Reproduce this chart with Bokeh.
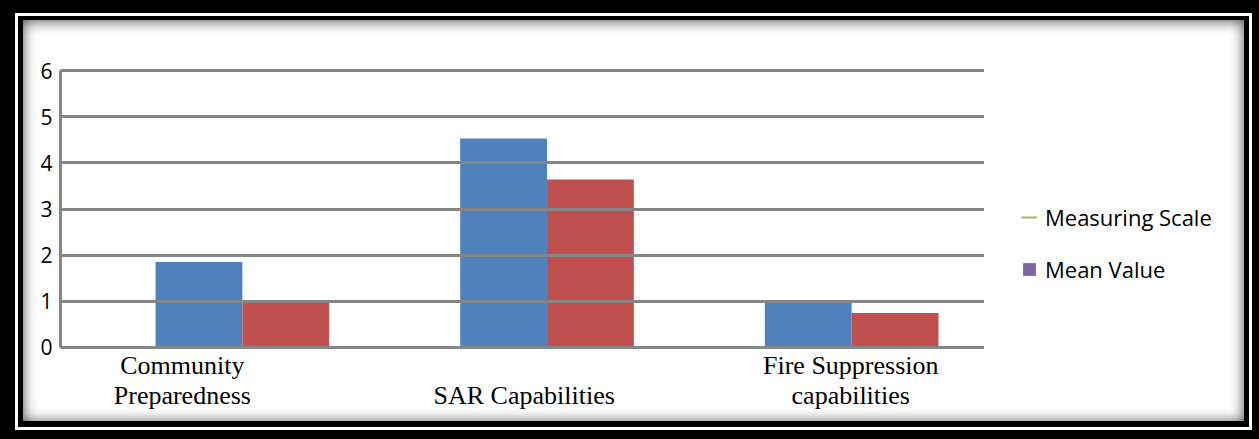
import numpy as np
from bokeh.plotting import figure
from bokeh.layouts import row
from bokeh.models import (Range1d, FixedTicker, Legend, LegendItem,
                          CustomJSTickFormatter, LinearAxis)
from bokeh.embed import file_html
from bokeh.resources import INLINE

# --- data -------------------------------------------------------------
categories = ["Community Preparedness", "SAR Capabilities", "Fire Suppression capabilities"]
category_labels = ["Community\nPreparedness", "SAR Capabilities", "Fire Suppression\ncapabilities"]
measuring_scale = [1.85, 4.53, 0.98]
mean_value = [0.96, 3.64, 0.74]
y_ticks = [0, 1, 2, 3, 4, 5, 6]
legend_labels = ["Measuring Scale", "Mean Value"]

# --- styling ----------------------------------------------------------
BLUE = "#4F81BD"
RED = "#C0504D"
GRID = "#868686"
LEGEND_LINE = "#9BBB59"
LEGEND_BOX = "#8064A2"
SANS = "Open Sans"
SERIF = "Liberation Serif"
BAR_W = 0.285
label_shift = [-0.197, -0.075, -0.003]   # where each category caption sits

positions = list(range(len(categories)))

p = figure(
    width=984, height=439,
    output_backend="svg", toolbar_location=None,
    x_range=Range1d(-0.597, 2.436), y_range=Range1d(-0.03, 6.03),
    x_axis_location=None,
    min_border_left=60, min_border_right=0,
    min_border_top=69, min_border_bottom=91,
)
p.outline_line_color = None
p.background_fill_color = "white"
p.border_fill_alpha = 0

# bars
p.vbar(x=[x - BAR_W / 2 for x in positions], top=measuring_scale, width=BAR_W,
       fill_color=BLUE, line_color=None)
p.vbar(x=[x + BAR_W / 2 for x in positions], top=mean_value, width=BAR_W,
       fill_color=RED, line_color=None)

# category captions on a bottom axis (shorter captions sit on the lower line)
xaxis = LinearAxis(
    ticker=FixedTicker(ticks=[x + s for x, s in zip(positions, label_shift)]),
    formatter=CustomJSTickFormatter(
        args=dict(labels=category_labels),
        code="""
            const n = Math.max(...labels.map(l => l.split("\\n").length));
            const s = labels[Math.round(tick)];
            return "\\n".repeat(n - s.split("\\n").length) + s;
        """),
    axis_line_color=None, major_tick_line_color=None, minor_tick_line_color=None,
    major_tick_out=0, major_label_standoff=2,
    major_label_text_font=SERIF, major_label_text_font_size="26px",
    major_label_text_color="black", major_label_text_line_height=1.05,
)
p.add_layout(xaxis, "below")

# y axis
yaxis = p.yaxis[0]
yaxis.ticker = FixedTicker(ticks=y_ticks)
yaxis.bounds = (0, 6)
yaxis.axis_line_color = GRID
yaxis.axis_line_width = 3
yaxis.major_tick_line_color = None
yaxis.minor_tick_line_color = None
yaxis.major_tick_out = 0
yaxis.major_label_text_font = SANS
yaxis.major_label_text_font_size = "21px"
yaxis.major_label_text_color = "black"
yaxis.major_label_standoff = 8

# grid drawn over the bars
p.xgrid.visible = False
p.ygrid.ticker = FixedTicker(ticks=y_ticks)
p.ygrid.grid_line_color = GRID
p.ygrid.grid_line_width = 3
p.ygrid.level = "overlay"

# legend panel
q = figure(
    width=275, height=439, output_backend="svg", toolbar_location=None,
    x_range=Range1d(0, 1), y_range=Range1d(0, 1),
    x_axis_location=None, y_axis_location=None, min_border=0,
)
q.grid.visible = False
q.outline_line_color = None
q.background_fill_alpha = 0
q.border_fill_alpha = 0

r_line = q.line(x=np.array([np.nan]), y=np.array([np.nan]), line_color=LEGEND_LINE, line_width=2)
r_box = q.quad(left=np.array([np.nan]), right=np.array([np.nan]),
               top=np.array([np.nan]), bottom=np.array([np.nan]),
               fill_color=LEGEND_BOX, line_color=None)
legend = Legend(
    items=[LegendItem(label=legend_labels[0], renderers=[r_line]),
           LegendItem(label=legend_labels[1], renderers=[r_box])],
    location=(37, 64),
    glyph_width=16, glyph_height=16,
    label_standoff=8, spacing=22, padding=0, margin=0,
    label_text_font=SANS, label_text_font_size="22px", label_text_color="black",
    border_line_color=None, background_fill_alpha=0,
)
q.add_layout(legend, "center")

layout = row(p, q, spacing=0)
layout.styles = {
    "background-color": "white",
    "box-shadow": (
        "inset 4px 2px 0 11px #000, "
        "inset 4px 2px 0 14px #fff, "
        "inset 4px 1px 0 19px #000, "
        "inset 4px 2px 14px 19px rgba(0,0,0,0.7)"
    ),
}

open("out.html", "w").write(file_html(layout, INLINE))
